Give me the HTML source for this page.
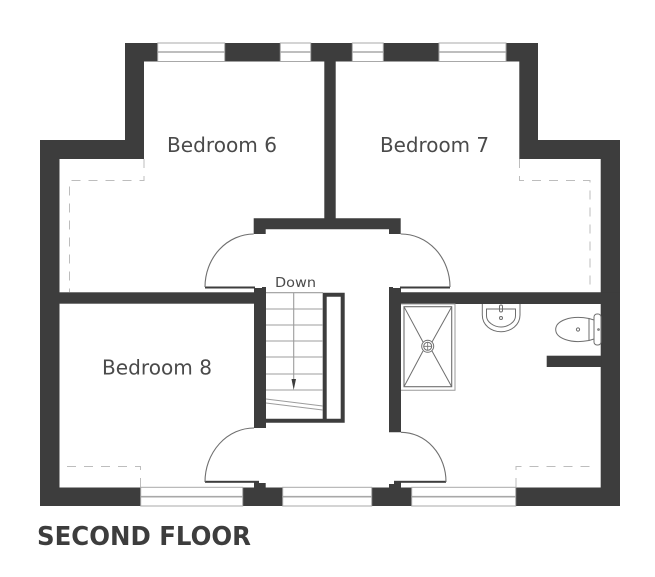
<!DOCTYPE html>
<html><head><meta charset="utf-8">
<style>html,body{margin:0;padding:0;background:#fff}svg{display:block}text{font-family:"DejaVu Sans","Liberation Sans",sans-serif;fill:#4a4a4a}</style>
</head><body>
<svg width="655" height="577" viewBox="0 0 655 577" xmlns="http://www.w3.org/2000/svg">
<rect width="655" height="577" fill="#fff"/>
<!-- dashed -->
<g fill="none" stroke="#bdbdbd" stroke-width="1" stroke-dasharray="9 8">
<path d="M144 159V180.5H69.5V292"/>
<path d="M519.5 159V180.5H590V292"/>
<path d="M140.5 487V466.5H63"/>
<path d="M516 487V466.5H594"/>
</g>
<!-- walls -->
<g fill="#3d3d3d">
<path d="M125 43H538V140H620V506H40V140H125ZM144 61.5V159H59.5V487.5H600.7V159H519.3V61.5Z" fill-rule="evenodd"/>
<rect x="324.3" y="61" width="11.4" height="158"/>
<path d="M253.7 218.3H400.7V234H389V229.3H265.7V234H253.7Z"/>
<rect x="59" y="292.3" width="195" height="11.4"/>
<path d="M254 288H262V287H266V428H254Z"/>
<path d="M389 287H393V288H401V292.3H620V304H401V432.3H389Z"/>
<rect x="546.7" y="355.7" width="55" height="11.3"/>
<path d="M322.7 292.7H344.7V422.7H266V418.7H322.7ZM326.7 296.7V418.7H340.7V296.7Z" fill-rule="evenodd"/>
<rect x="205" y="286.5" width="50" height="2"/>
<rect x="400" y="286.5" width="50" height="2"/>
<rect x="205" y="480.8" width="54" height="2"/>
<rect x="394" y="480.8" width="52" height="2"/>
<path d="M254 482H259V483H265.7V488H254Z"/>
<path d="M389 484H394V482H401V488H389Z"/>
</g>
<!-- windows -->
<g fill="#fff" stroke="#a8a8a8" stroke-width="1">
<rect x="157.7" y="43" width="67" height="18.5"/>
<rect x="280.3" y="43" width="30.4" height="18.5"/>
<rect x="352.3" y="43" width="31" height="18.5"/>
<rect x="439" y="43" width="67" height="18.5"/>
<rect x="140.7" y="487.3" width="102" height="18.7"/>
<rect x="282.7" y="487.3" width="89" height="18.7"/>
<rect x="411.7" y="487.3" width="104" height="18.7"/>
</g>
<g stroke="#a8a8a8" stroke-width="1.6">
<path d="M157.7 52H224.7M280.3 52H310.7M352.3 52H383.3M439 52H506"/>
<path d="M140.7 496.7H242.7M282.7 496.7H371.7M411.7 496.7H515.7"/>
</g>
<!-- door arcs -->
<g fill="none" stroke="#6f6f6f" stroke-width="1.1">
<path d="M253.7 234A49 53 0 0 0 205 287"/>
<path d="M400.7 234A49 53 0 0 1 450 287"/>
<path d="M254 428A49 54 0 0 0 205 482"/>
<path d="M401 432.3A45 49.5 0 0 1 446 482"/>
</g>
<!-- stairs -->
<g stroke="#9c9c9c" stroke-width="1.1" fill="none">
<path d="M266 292.7H323M266 309H323M266 325H323M266 341H323M266 357H323M266 374H323M266 390H323"/>
<path d="M293.7 293V382"/>
<path d="M266 399L322.7 406M266 403L322.7 410"/>
</g>
<path d="M291.5 379H296L293.7 390Z" fill="#3d3d3d"/>
<!-- bathroom -->
<g fill="none" stroke="#6e6e6e" stroke-width="1">
<path d="M401 304H455V390.3H401" stroke="#9a9a9a"/>
<rect x="404" y="306.7" width="47.7" height="80" stroke-width="1.1"/>
<path d="M404 306.7L423 342M451.7 306.7L432 342M404 386.7L423 351M451.7 386.7L432 351"/>
<circle cx="427.7" cy="346.3" r="6"/>
<circle cx="427.7" cy="346.3" r="4"/>
<path d="M423.7 346.3H431.7M427.7 342.3V350.3" stroke-width="0.8"/>
<path d="M482.3 304V315C482.3 325 491 331.7 501 331.7S520 325 520 315V304"/>
<path d="M486.5 309H515.5V316C515.5 322 508 327 501 327S486.5 322 486.5 316Z"/>
<circle cx="501" cy="318" r="1.5"/>
<rect x="499.5" y="305" width="3" height="7" rx="1.5"/>
<path d="M589 318.5C570 315 555.7 321 555.7 329.5S570 344 589 340.5Z"/>
<path d="M589 318.5L594 320M589 340.5L594 339"/>
<rect x="594" y="314" width="7" height="31" rx="3"/>
<circle cx="578" cy="329.5" r="1.6"/>
<circle cx="598.5" cy="329.5" r="0.8"/>
</g>
<!-- labels -->
<text x="167" y="152" font-size="20" textLength="110" lengthAdjust="spacingAndGlyphs">Bedroom 6</text>
<text x="380" y="152" font-size="20" textLength="109" lengthAdjust="spacingAndGlyphs">Bedroom 7</text>
<text x="102" y="374.5" font-size="20" textLength="110" lengthAdjust="spacingAndGlyphs">Bedroom 8</text>
<text x="275" y="287" font-size="13.5" textLength="41" lengthAdjust="spacingAndGlyphs">Down</text>
<text x="37" y="545" font-size="26" font-weight="bold" textLength="214" lengthAdjust="spacingAndGlyphs" style="fill:#3d3d3d">SECOND FLOOR</text>
</svg>
</body></html>
